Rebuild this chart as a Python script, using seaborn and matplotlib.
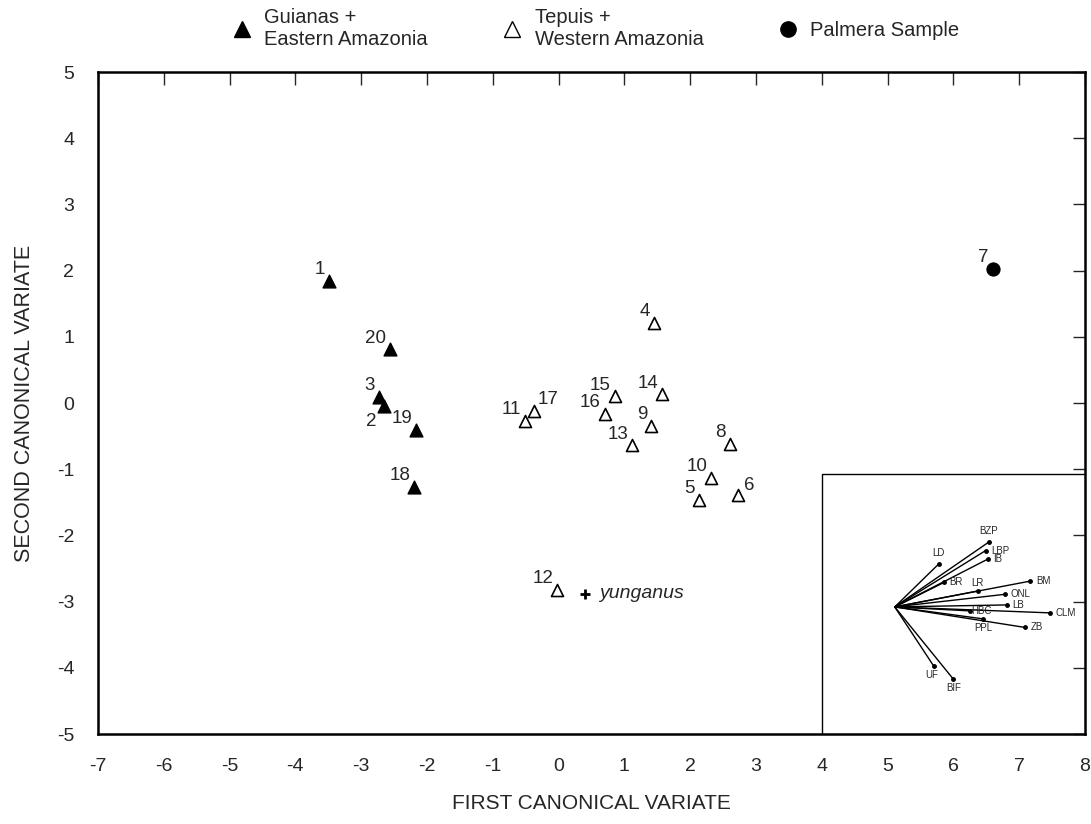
import pandas as pd
import numpy as np
import seaborn as sns
import matplotlib.pyplot as plt
from matplotlib.lines import Line2D

# sample scores on the first two canonical variates
east_ids = ['1', '20', '3', '2', '19', '18']
east_x = [-3.49, -2.56, -2.73, -2.66, -2.16, -2.19]
east_y = [1.84, 0.81, 0.09, -0.04, -0.41, -1.27]

west_ids = ['4', '15', '14', '11', '17', '16', '9', '13', '8', '10', '5', '6', '12']
west_x = [1.45, 0.86, 1.58, -0.51, -0.38, 0.70, 1.41, 1.12, 2.60, 2.32, 2.13, 2.73, -0.02]
west_y = [1.21, 0.10, 0.13, -0.27, -0.12, -0.17, -0.35, -0.64, -0.62, -1.13, -1.46, -1.39, -2.82]

palmera_ids = ['7']
palmera_x = [6.60]
palmera_y = [2.03]

yung_x, yung_y = 0.40, -2.88

# inset: character loadings (vectors)
chars = ['BZP', 'LBP', 'IB', 'LD', 'BR', 'LR', 'BM', 'ONL', 'LB', 'CLM', 'HBC', 'PPL', 'ZB', 'UF', 'BIF']
load_x = [1.43, 1.38, 1.41, 0.67, 0.75, 1.26, 2.06, 1.67, 1.70, 2.36, 1.14, 1.34, 1.98, 0.59, 0.89]
load_y = [0.98, 0.85, 0.72, 0.65, 0.37, 0.24, 0.39, 0.19, 0.03, -0.09, -0.06, -0.18, -0.31, -0.89, -1.09]
inset_origin = (5.11, -3.08)

df = pd.concat([
    pd.DataFrame({'id': east_ids, 'x': east_x, 'y': east_y, 'grp': 'east'}),
    pd.DataFrame({'id': west_ids, 'x': west_x, 'y': west_y, 'grp': 'west'}),
    pd.DataFrame({'id': palmera_ids, 'x': palmera_x, 'y': palmera_y, 'grp': 'palmera'}),
], ignore_index=True)

sns.set_style('white')
plt.rcParams['font.family'] = ['Liberation Sans', 'DejaVu Sans']
plt.rcParams['axes.unicode_minus'] = False

fig = plt.figure(figsize=(10.91, 8.24), dpi=100)
ax = fig.add_axes([0.0898, 0.1092, 0.9046, 0.8034])

sns.scatterplot(data=df[df.grp == 'east'], x='x', y='y', marker='^', s=85,
                color='black', edgecolor='black', linewidth=1, ax=ax, zorder=3)
sns.scatterplot(data=df[df.grp == 'west'], x='x', y='y', marker='^', s=75,
                color='white', edgecolor='black', linewidth=1.2, ax=ax, zorder=3)
sns.scatterplot(data=df[df.grp == 'palmera'], x='x', y='y', marker='o', s=90,
                color='black', edgecolor='black', ax=ax, zorder=3)

# point labels, mostly upper-left of the marker
offsets = {'2': (-5, -5, 'right', 'top'), '17': (3, 2, 'left', 'bottom'),
           '6': (4, 1, 'left', 'bottom')}
for _, r in df.iterrows():
    dx, dy, ha, va = offsets.get(r['id'], (-3, 2, 'right', 'bottom'))
    ax.annotate(r['id'], (r['x'], r['y']), xytext=(dx, dy), textcoords='offset points',
                ha=ha, va=va, fontsize=13.5)

ax.plot(yung_x, yung_y, marker='+', color='black', ms=7, mew=2)
ax.annotate('yunganus', (yung_x, yung_y), xytext=(10, 0), textcoords='offset points',
            ha='left', va='center', fontsize=14, style='italic')

# inset box with loadings
ax.plot([4, 4, 8], [-5, -1.07, -1.07], color='black', lw=1)
ox, oy = inset_origin
lab_off = {'BZP': (0, 4, 'center', 'bottom'), 'LD': (0, 4, 'center', 'bottom'),
           'LR': (0, 2, 'center', 'bottom'), 'PPL': (0, -3, 'center', 'top'),
           'UF': (-1, -3, 'center', 'top'), 'BIF': (0, -3, 'center', 'top'),
           'HBC': (1, 0, 'left', 'center')}
for c, lx, ly in zip(chars, load_x, load_y):
    ax.plot([ox, ox + lx], [oy, oy + ly], color='black', lw=1)
    ax.plot(ox + lx, oy + ly, marker='o', ms=2.5, color='black')
    dx, dy, ha, va = lab_off.get(c, (4, 0, 'left', 'center'))
    ax.annotate(c, (ox + lx, oy + ly), xytext=(dx, dy), textcoords='offset points',
                ha=ha, va=va, fontsize=7)

ax.set_xlim(-7, 8)
ax.set_ylim(-5, 5)
ax.set_xticks(range(-7, 9))
ax.set_yticks(range(-5, 6))
ax.tick_params(direction='in', length=9, width=1, top=True, right=True,
               labelsize=14, pad=17)
for sp in ax.spines.values():
    sp.set_linewidth(1.8)
    sp.set_color('black')
ax.set_xlabel('FIRST CANONICAL VARIATE', fontsize=15, labelpad=14)
ax.set_ylabel('SECOND CANONICAL VARIATE', fontsize=15.5, labelpad=16)

handles = [
    Line2D([], [], marker='^', ls='', color='black', ms=11),
    Line2D([], [], marker='^', ls='', mfc='white', mec='black', ms=11),
    Line2D([], [], marker='o', ls='', color='black', ms=11),
]
labels = ['Guianas +\nEastern Amazonia', 'Tepuis +\nWestern Amazonia', 'Palmera Sample']
fig.legend(handles, labels, loc='upper center', bbox_to_anchor=(0.545, 1.012), ncol=3,
           frameon=False, fontsize=14.5, columnspacing=3.6, handletextpad=0.5,
           handlelength=1.2, labelspacing=0.05)

fig.savefig('out.png', dpi=100)
